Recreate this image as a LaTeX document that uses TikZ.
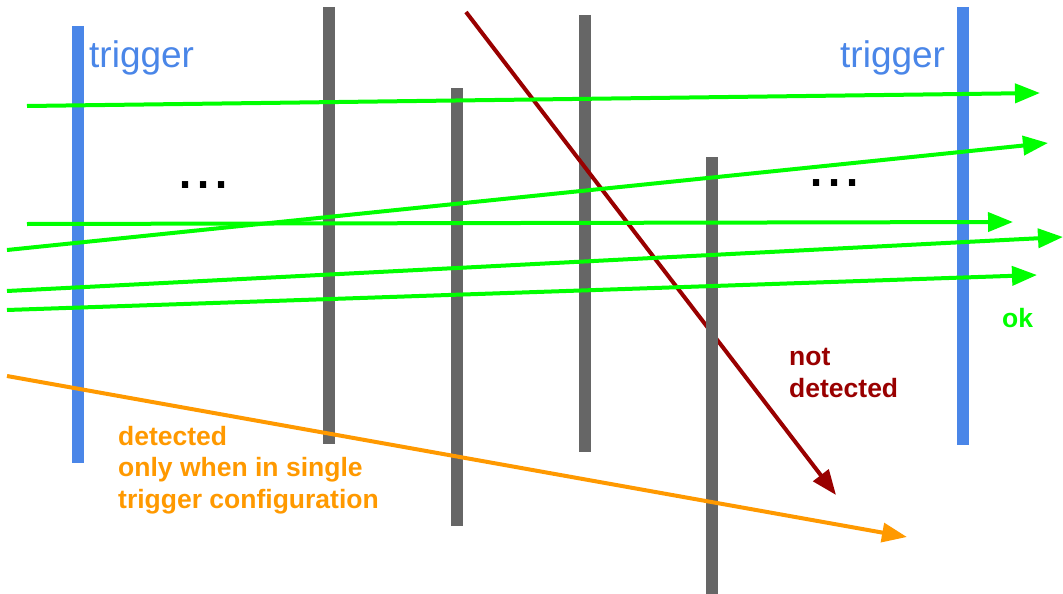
\documentclass[tikz,border=0pt]{standalone}
\usepackage{fontspec}
\setmainfont{Liberation Sans}
\usetikzlibrary{arrows.meta}
\definecolor{trigblue}{HTML}{4A86E8}
\definecolor{bargray}{HTML}{666666}
\definecolor{okgreen}{HTML}{00FF00}
\definecolor{nodark}{HTML}{990000}
\definecolor{singorange}{HTML}{FF9900}
\tikzset{
  gbar/.style={draw=bargray, line width=12pt},
  tbar/.style={draw=trigblue, line width=12pt},
  track/.style={line width=4pt, -{Triangle[length=25pt,width=19pt]}},
  lbl/.style={inner sep=0pt, anchor=base west, font=\bfseries\fontsize{26.5}{31.5}\selectfont, align=left},
  trig/.style={inner sep=0pt, anchor=base west, text=trigblue, font=\fontsize{37}{44}\selectfont},
  dots/.style={inner sep=0pt, anchor=base west, font=\fontsize{65}{70}\selectfont}
}
\begin{document}
\begin{tikzpicture}[x=1pt, y=-1pt]
\useasboundingbox (0,0) rectangle (1063,594);
% detector planes
\coordinate (g1t) at (329,7);   \coordinate (g1b) at (329,444);
\coordinate (g2t) at (457,88);  \coordinate (g2b) at (457,526);
\coordinate (g3t) at (585,15);  \coordinate (g3b) at (585,452);
\coordinate (g4t) at (712,157); \coordinate (g4b) at (712,594);
\coordinate (b1t) at (78,26);   \coordinate (b1b) at (78,463);
\coordinate (b2t) at (963,7);   \coordinate (b2b) at (963,445);
% tracks
\coordinate (r0) at (466,12);  \coordinate (r1) at (836,495);
\coordinate (a0) at (27,106);  \coordinate (a1) at (1040,93);
\coordinate (c0) at (7,250);   \coordinate (c1) at (1048,143);
\coordinate (d0) at (27,224);  \coordinate (d1) at (1013,222);
\coordinate (e0) at (7,291);   \coordinate (e1) at (1063,237);
\coordinate (f0) at (7,310);   \coordinate (f1) at (1037,275);
\coordinate (o0) at (7,376);   \coordinate (o1) at (907,537);

\draw[gbar] (g1t) -- (g1b);
\draw[gbar] (g2t) -- (g2b);
\draw[gbar] (g3t) -- (g3b);
\draw[track, nodark] (r0) -- (r1);
\draw[gbar] (g4t) -- (g4b);
\draw[tbar] (b1t) -- (b1b);
\draw[tbar] (b2t) -- (b2b);

\draw[track, okgreen] (a0) -- (a1);
\draw[track, okgreen] (c0) -- (c1);
\draw[track, okgreen] (d0) -- (d1);
\draw[track, okgreen] (e0) -- (e1);
\draw[track, okgreen] (f0) -- (f1);
\draw[track, singorange] (o0) -- (o1);

\node[trig] (trigL) at (89,68) {trigger};
\node[trig] (trigR) at (840,68) {trigger};
\node[dots] (dotsL) at (176,188) {...};
\node[dots] (dotsR) at (807,186) {...};
\node[lbl, text=okgreen] (ok) at (1002,327) {ok};
\node[lbl, text=nodark] (nd) at (789,397) {not\\detected};
\node[lbl, text=singorange] (sg) at (118,508) {detected\\only when in single\\trigger configuration};
\end{tikzpicture}
\end{document}
